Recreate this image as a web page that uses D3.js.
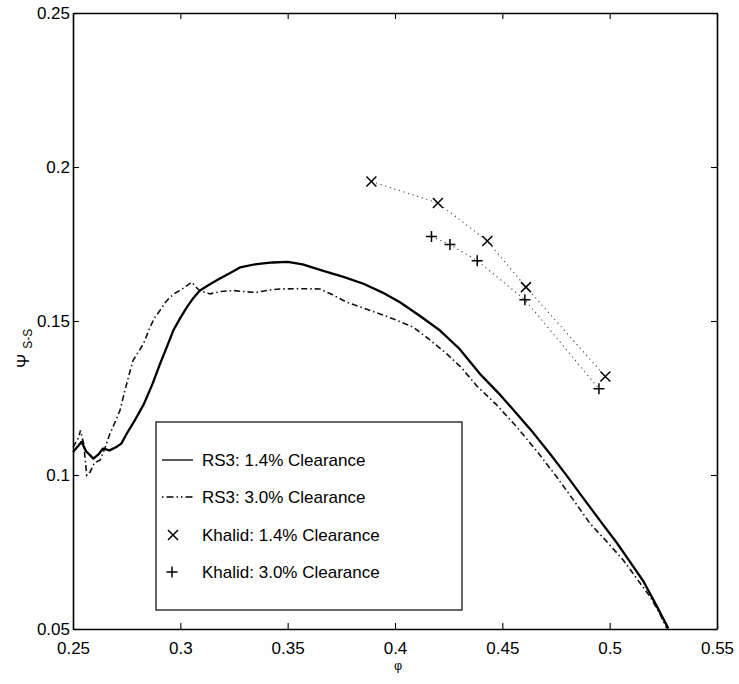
<!DOCTYPE html>
<html>
<head>
<meta charset="utf-8">
<script src="https://cdn.jsdelivr.net/npm/d3@7"></script>
<style>
  html, body { margin: 0; padding: 0; background: #fff; }
  svg { display: block; font-family: "Liberation Sans", Arial, Helvetica, sans-serif; }
</style>
</head>
<body>
<svg id="chart" width="739" height="684"></svg>
<script>
// ---- data ----
const xTicks = [0.25, 0.3, 0.35, 0.4, 0.45, 0.5, 0.55];
const yTicks = [0.05, 0.1, 0.15, 0.2, 0.25];
const xTickLabels = ["0.25", "0.3", "0.35", "0.4", "0.45", "0.5", "0.55"];
const yTickLabels = ["0.05", "0.1", "0.15", "0.2", "0.25"];

const rs14Phi = [0.2500,0.2525,0.2540,0.2560,0.2595,0.2620,0.2640,0.2670,0.2700,0.2725,0.2750,0.2790,0.2830,0.2870,0.2905,0.2935,0.2967,0.3000,0.3030,0.3060,0.3090,0.3130,0.3180,0.3230,0.3278,0.3356,0.3430,0.3500,0.3570,0.3666,0.3760,0.3853,0.3940,0.4023,0.4115,0.4210,0.4300,0.4400,0.4490,0.4567,0.4645,0.4722,0.4800,0.4877,0.4955,0.5033,0.5095,0.5157,0.5215,0.5273];
const rs14Psi = [0.1075,0.1095,0.1108,0.1078,0.1053,0.1068,0.1086,0.1080,0.1090,0.1102,0.1134,0.1180,0.1230,0.1295,0.1360,0.1412,0.1469,0.1510,0.1544,0.1574,0.1598,0.1616,0.1636,0.1655,0.1674,0.1685,0.1690,0.1692,0.1684,0.1663,0.1643,0.1621,0.1593,0.1561,0.1517,0.1469,0.1410,0.1325,0.1260,0.1199,0.1136,0.1069,0.0998,0.0925,0.0852,0.0780,0.0718,0.0655,0.0580,0.0502];

const rs30Phi = [0.2500,0.2525,0.2535,0.2550,0.2564,0.2580,0.2600,0.2626,0.2650,0.2672,0.2695,0.2719,0.2735,0.2750,0.2765,0.2780,0.2805,0.2828,0.2859,0.2880,0.2905,0.2930,0.2952,0.2975,0.2998,0.3025,0.3053,0.3070,0.3090,0.3138,0.3190,0.3247,0.3300,0.3356,0.3410,0.3464,0.3550,0.3650,0.3710,0.3775,0.3850,0.3930,0.4010,0.4085,0.4160,0.4240,0.4310,0.4380,0.4470,0.4567,0.4660,0.4753,0.4830,0.4908,0.4985,0.5063,0.5125,0.5188,0.5230,0.5266];
const rs30Psi = [0.1090,0.1120,0.1145,0.1100,0.0999,0.1010,0.1040,0.1048,0.1090,0.1134,0.1170,0.1210,0.1255,0.1296,0.1335,0.1372,0.1400,0.1426,0.1480,0.1510,0.1534,0.1560,0.1577,0.1590,0.1599,0.1612,0.1626,0.1612,0.1599,0.1588,0.1596,0.1599,0.1595,0.1593,0.1600,0.1604,0.1605,0.1604,0.1585,0.1561,0.1543,0.1523,0.1502,0.1480,0.1440,0.1394,0.1348,0.1290,0.1230,0.1156,0.1078,0.0994,0.0920,0.0843,0.0785,0.0724,0.0665,0.0605,0.0555,0.0502];

const khalid14Phi = [0.389, 0.420, 0.443, 0.461, 0.498];
const khalid14Psi = [0.1953, 0.1883, 0.1760, 0.1610, 0.1320];
const khalid30Phi = [0.417, 0.4256, 0.4383, 0.4605, 0.495];
const khalid30Psi = [0.1774, 0.1748, 0.1696, 0.1569, 0.1280];

const legendLabels = ["RS3: 1.4% Clearance", "RS3: 3.0% Clearance", "Khalid: 1.4% Clearance", "Khalid: 3.0% Clearance"];

// ---- layout ----
const svg = d3.select("#chart");
const mLeft = 73, mRight = 717, mTop = 13, mBottom = 629;
const x = d3.scaleLinear().domain([0.25, 0.55]).range([mLeft, mRight]);
const y = d3.scaleLinear().domain([0.05, 0.25]).range([mBottom, mTop]);

const zip = (a, b) => a.map((v, i) => [v, b[i]]);
const line = d3.line().x(d => x(d[0])).y(d => y(d[1]));

// ---- axes (box with inward ticks) ----
const fs = 17;
const gB = svg.append("g").attr("transform", `translate(0,${mBottom})`)
  .call(d3.axisBottom(x).tickValues(xTicks).tickFormat((d, i) => xTickLabels[i]).tickSizeInner(-6).tickSizeOuter(0).tickPadding(13));
const gL = svg.append("g").attr("transform", `translate(${mLeft},0)`)
  .call(d3.axisLeft(y).tickValues(yTicks).tickFormat((d, i) => yTickLabels[i]).tickSizeInner(-6).tickSizeOuter(0).tickPadding(3));
const gT = svg.append("g").attr("transform", `translate(0,${mTop})`)
  .call(d3.axisTop(x).tickValues(xTicks).tickFormat("").tickSizeInner(-6).tickSizeOuter(0));
const gR = svg.append("g").attr("transform", `translate(${mRight},0)`)
  .call(d3.axisRight(y).tickValues(yTicks).tickFormat("").tickSizeInner(-6).tickSizeOuter(0));
[gB, gL, gT, gR].forEach(g => {
  g.select(".domain").attr("stroke", "#000").attr("stroke-width", 1.6);
  g.selectAll(".tick line").attr("stroke", "#000").attr("stroke-width", 1.1);
  g.selectAll(".tick text").attr("fill", "#000").attr("font-size", fs).attr("font-family", "Liberation Sans, Arial, sans-serif");
});

// ---- curves ----
svg.append("path").datum(zip(rs30Phi, rs30Psi)).attr("d", line)
  .attr("fill", "none").attr("stroke", "#111").attr("stroke-width", 1.6)
  .attr("stroke-dasharray", "6,3,1.5,3");
svg.append("path").datum(zip(rs14Phi, rs14Psi)).attr("d", line)
  .attr("fill", "none").attr("stroke", "#000").attr("stroke-width", 2.3).attr("stroke-linejoin", "round");

svg.append("path").datum(zip(khalid14Phi, khalid14Psi)).attr("d", line)
  .attr("fill", "none").attr("stroke", "#444").attr("stroke-width", 1.1).attr("stroke-dasharray", "1.2,3.6");
svg.append("path").datum(zip(khalid30Phi, khalid30Psi)).attr("d", line)
  .attr("fill", "none").attr("stroke", "#444").attr("stroke-width", 1.1).attr("stroke-dasharray", "1.2,3.6");

function cross(g, cx, cy, s) {
  g.append("path").attr("d", `M${cx - s},${cy - s}L${cx + s},${cy + s}M${cx - s},${cy + s}L${cx + s},${cy - s}`)
    .attr("stroke", "#000").attr("stroke-width", 1.5).attr("fill", "none");
}
function plus(g, cx, cy, s) {
  g.append("path").attr("d", `M${cx - s},${cy}L${cx + s},${cy}M${cx},${cy - s}L${cx},${cy + s}`)
    .attr("stroke", "#000").attr("stroke-width", 1.5).attr("fill", "none");
}
const marks = svg.append("g");
zip(khalid14Phi, khalid14Psi).forEach(d => cross(marks, x(d[0]), y(d[1]), 5));
zip(khalid30Phi, khalid30Psi).forEach(d => plus(marks, x(d[0]), y(d[1]), 5.5));

// ---- legend ----
const lg = svg.append("g");
lg.append("rect").attr("x", 156).attr("y", 422).attr("width", 306).attr("height", 188)
  .attr("fill", "#fff").attr("stroke", "#000").attr("stroke-width", 1.2);
const rowY = [460, 497, 535, 572];
lg.append("line").attr("x1", 162).attr("x2", 193).attr("y1", rowY[0]).attr("y2", rowY[0])
  .attr("stroke", "#000").attr("stroke-width", 1.3);
lg.append("line").attr("x1", 162).attr("x2", 193).attr("y1", rowY[1]).attr("y2", rowY[1])
  .attr("stroke", "#000").attr("stroke-width", 1.3).attr("stroke-dasharray", "1.5,3,7,3,1.5,3");
cross(lg, 173, rowY[2], 5);
plus(lg, 172, rowY[3], 5.5);
legendLabels.forEach((t, i) => {
  lg.append("text").attr("x", 202).attr("y", rowY[i] + 6).attr("font-size", fs).attr("fill", "#000").text(t);
});

// ---- axis titles ----
svg.append("text").attr("x", 398).attr("y", 670).attr("text-anchor", "middle")
  .attr("font-size", 12.5).attr("fill", "#000").text("φ");
const yl = svg.append("text").attr("transform", "translate(29,368) rotate(-90)")
  .attr("font-size", 17).attr("fill", "#000");
yl.append("tspan").text("Ψ");
yl.append("tspan").attr("font-size", 12).attr("dx", 5).attr("dy", 3).text("S-S");
</script>
</body>
</html>
